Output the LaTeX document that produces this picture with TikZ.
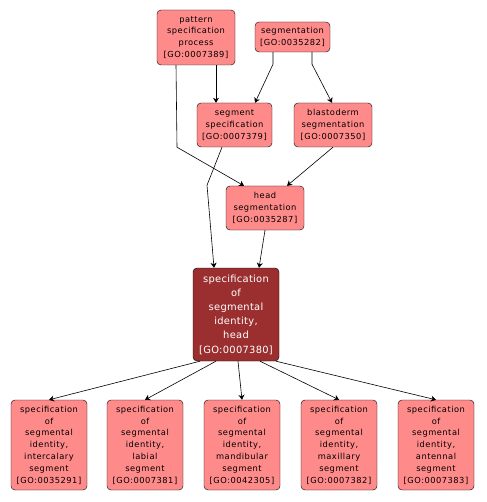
\documentclass[tikz,border=0pt]{standalone}
\usepackage{fontspec}
\setmainfont{DejaVu Sans}
\newfontfamily\termfont[LetterSpace=6]{DejaVu Sans}
\newfontfamily\focusfont[LetterSpace=3]{DejaVu Sans}
\usetikzlibrary{
  positioning,
  arrows.meta
}
\definecolor{termfill}{HTML}{FF8A8A}
\definecolor{mainfill}{HTML}{9B2F2F}

\begin{document}
\begin{tikzpicture}[
  x=1pt, y=-1pt,
  term/.style={draw, rounded corners=4pt, fill=termfill, align=center,
               inner sep=0pt, font=\termfont\fontsize{8.3}{11.8}\selectfont},
  focus/.style={draw, rounded corners=4pt, fill=mainfill, text=white, align=center,
               inner sep=0pt, minimum width=86pt, minimum height=93pt,
               font=\focusfont\fontsize{9.9}{14.2}\selectfont},
  arr/.style={-{Stealth[length=5pt, width=6pt, inset=1.5pt]}, semithick, black}
]
  \useasboundingbox (0,0) rectangle (486,502);

  % Top row
  \node[term, minimum width=78pt, minimum height=55pt] (pat) at (196, 37.5) {
    pattern\\ specification\\ process\\ {[GO:0007389]}
  };
  \node[term, minimum width=75pt, minimum height=30pt] (seg) at (292.5, 37) {
    segmentation\\ {[GO:0035282]}
  };

  % Second row
  \node[term, minimum width=75pt, minimum height=44pt] (segspec) at (234.5, 125) {
    segment\\ specification\\ {[GO:0007379]}
  };
  \node[term, minimum width=78pt, minimum height=44pt] (blast) at (333, 125) {
    blastoderm\\ segmentation\\ {[GO:0007350]}
  };

  % Third row
  \node[term, minimum width=78pt, minimum height=44pt] (headseg) at (265, 208) {
    head\\ segmentation\\ {[GO:0035287]}
  };

  % Main term
  \node[focus] (main) at (236, 314.5) {
    specification\\ of\\ segmental\\ identity,\\ head\\ {[GO:0007380]}
  };

  % Bottom row: child terms
  \node[term, minimum width=76pt, minimum height=90pt] (inter) at (49, 445) {
    specification\\ of\\ segmental\\ identity,\\ intercalary\\ segment\\ {[GO:0035291]}
  };
  \node[term, minimum width=76pt, minimum height=90pt] (labial) at (145, 445) {
    specification\\ of\\ segmental\\ identity,\\ labial\\ segment\\ {[GO:0007381]}
  };
  \node[term, minimum width=76pt, minimum height=90pt] (mandib) at (242, 445) {
    specification\\ of\\ segmental\\ identity,\\ mandibular\\ segment\\ {[GO:0042305]}
  };
  \node[term, minimum width=76pt, minimum height=90pt] (maxil) at (339, 445) {
    specification\\ of\\ segmental\\ identity,\\ maxillary\\ segment\\ {[GO:0007382]}
  };
  \node[term, minimum width=76pt, minimum height=90pt] (anten) at (436, 445) {
    specification\\ of\\ segmental\\ identity,\\ antennal\\ segment\\ {[GO:0007383]}
  };

  % Upper edges
  \draw[arr] ([xshift=20pt]pat.south) -- ([xshift=-18.5pt]segspec.north);
  \draw[arr] ([xshift=-19.5pt]seg.south) -- ++(0,12) -- ([xshift=20.5pt]segspec.north);
  \draw[arr] ([xshift=19.5pt]seg.south) -- ++(0,12) -- ([xshift=-1pt]blast.north);
  \draw[arr] ([xshift=-20pt]pat.south) -- ++(1,82) -- ([xshift=-21pt]headseg.north);
  \draw[arr] ([xshift=-12.5pt]segspec.south) -- ++(-15,38) -- ([xshift=-22pt]main.north);
  \draw[arr] (blast.south) -- ([xshift=22pt]headseg.north);
  \draw[arr] (headseg.south) -- ([xshift=23pt]main.north);

  % Lower edges
  \draw[arr] ([xshift=-36pt]main.south) -- (inter.north);
  \draw[arr] ([xshift=-20pt]main.south) -- (labial.north);
  \draw[arr] ([xshift=2pt]main.south) -- (mandib.north);
  \draw[arr] ([xshift=24pt]main.south) -- (maxil.north);
  \draw[arr] ([xshift=40pt]main.south) -- (anten.north);

\end{tikzpicture}
\end{document}
